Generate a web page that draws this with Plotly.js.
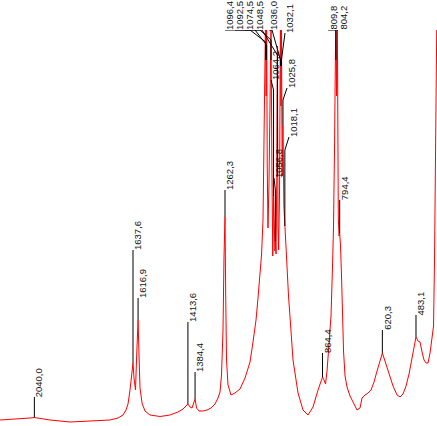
<!DOCTYPE html>
<html>
<head>
<meta charset="utf-8">
<script src="https://cdn.plot.ly/plotly-3.0.1.min.js"></script>
<style>html,body{margin:0;padding:0;background:#fff;}#chart{width:437px;height:426px;}</style>
</head>
<body>
<div id="chart"></div>
<script>
// Spectrum: wavenumber (cm-1) and intensity (arbitrary units)
var spectrumWn = [2180.2,2139.4,2098.6,2057.8,2040.0,2017.0,1976.2,1935.4,1894.6,1853.8,1813.0,1772.2,1731.4,1698.8,1678.4,1666.1,1658.0,1649.8,1643.7,1637.6,1633.5,1627.4,1623.3,1616.9,1613.1,1609.0,1600.8,1588.6,1568.2,1527.4,1486.6,1454.0,1433.6,1421.3,1413.6,1405.0,1396.8,1388.7,1384.4,1378.5,1368.3,1352.0,1335.6,1319.3,1303.0,1290.8,1282.6,1276.5,1270.4,1266.3,1262.3,1259.4,1256.1,1250.0,1237.7,1221.4,1201.0,1180.6,1160.2,1148.0,1135.7,1127.6,1119.4,1113.3,1107.2,1101.1,1096.4,1094.5,1092.5,1090.0,1087.0,1083.0,1079.0,1074.5,1071.0,1067.5,1064.2,1061.0,1058.5,1056.8,1054.0,1051.0,1048.5,1046.0,1043.5,1040.0,1036.0,1034.0,1032.1,1029.0,1025.8,1022.0,1018.1,1015.0,1013.3,1009.2,1003.1,997.0,984.8,964.4,944.0,923.6,903.2,882.8,872.4,864.4,858.3,852.2,846.0,837.9,829.7,823.6,819.5,815.4,809.8,807.3,804.2,800.1,797.1,794.4,791.0,786.9,782.8,778.7,772.6,764.4,752.2,740.0,723.6,711.4,703.2,691.0,678.8,666.5,654.3,642.0,629.8,620.3,613.5,601.2,589.0,576.8,560.4,548.2,536.0,523.7,511.5,499.2,489.0,483.1,474.8,466.6,458.4,450.3,442.1,434.0,425.8,417.6,411.5,407.4,403.4,400.5,397.2];
var spectrumInt = [6,6.5,7,8,8.5,7.5,6,5,4,4.5,5,5.5,6,8,11,16,22,36,54,63,48,36,66,106,71,38,23,15,11,9.5,11,14,17,20,22,19,18,24,27,18,15,15,16,18,22,28,34,51,96,170,209,130,66,41,31,33,37,48,64,84,106,128,151,171,206,300,420,330,420,260,198,240,330,400,260,170,230,185,175,185,172,250,380,200,176,230,410,320,410,250,300,220,200,185,170,153,130,109,66,33,16,11,19,36,44,49,46,42,55,80,110,160,200,280,420,330,420,210,190,193,180,150,110,75,50,39,30,24,16,18,28,31,33,36,44,55,65,73,68,59,50,40,31,29,32,40,52,68,82,89,85,84,74,66,63,63,73,88,100,170,280,400,430];

// Peak labels
var labelText = ["2040,0","1637,6","1616,9","1413,6","1384,4","1262,3","1096,4","1092,5","1074,5","1064,2","1056,8","1048,5","1036,0","1032,1","1025,8","1018,1","864,4","809,8","804,2","794,4","620,3","483,1"];
var labelWn = [2040.0,1637.6,1616.9,1413.6,1384.4,1262.3,1096.4,1092.5,1074.5,1064.2,1056.8,1048.5,1036.0,1032.1,1025.8,1018.1,864.4,809.8,804.2,794.4,620.3,483.1];
var labelPeakInt = [8.5,63,106,22,27,209,420,420,400,230,185,250,410,410,300,200,49,420,420,193,73,89];

// Label placement (text foot) and leader routing
var footWn  = [2040.0,1637.6,1616.9,1413.6,1384.4,1262.3,1262.2,1221.4,1180.6,1074.5,1062.3,1139.8,1082.7,1017.4,1009.2,1001.1,864.4,842.0,801.2,794.4,620.3,483.1];
var footInt = [29,176,128,104,54,236,396,396,396,346,248,396,396,393,338,289,73,396,396,226,96,111];
var elbowWn = [null,null,null,null,null,null,1160.2,1139.8,1119.4,null,null,1111.2,1070.4,null,null,null,null,809.8,804.2,null,null,null];
var kneeInt = [29,176,128,104,54,236,384,381,386,336,236,371,366,366,326,276,73,396,396,226,96,111];
var endInt  = [8.5,63,106,22,27,209,366,366,366,230,185,250,360,360,300,200,49,366,396,193,73,89];

var lx = [], ly = [];
for (var i = 0; i < labelText.length; i++) {
  lx.push(footWn[i]); ly.push(footInt[i]);
  if (elbowWn[i] !== null) { lx.push(elbowWn[i]); ly.push(footInt[i]); }
  lx.push(labelWn[i]); ly.push(kneeInt[i]);
  lx.push(labelWn[i]); ly.push(endInt[i]);
  lx.push(null); ly.push(null);
}

var traces = [
  {x: spectrumWn, y: spectrumInt, type: 'scatter', mode: 'lines',
   line: {color: '#ff0000', width: 1}, hoverinfo: 'skip'},
  {x: lx, y: ly, type: 'scatter', mode: 'lines', connectgaps: false,
   line: {color: '#000000', width: 1}, hoverinfo: 'skip'}
];

var annotations = labelText.map(function (t, i) {
  return {x: footWn[i], y: footInt[i], xref: 'x', yref: 'y', text: t,
    showarrow: false, textangle: -90, xanchor: 'left', yanchor: 'bottom',
    xshift: -2, yshift: -1, borderpad: 0,
    font: {family: 'Liberation Sans, Arial, sans-serif', size: 9.5, color: '#111'}};
});

var layout = {
  width: 437, height: 426,
  margin: {l: 0, r: 0, t: 30, b: 0, pad: 0},
  paper_bgcolor: '#fff', plot_bgcolor: '#fff',
  showlegend: false,
  xaxis: {range: [2180.2, 397.4], visible: false, fixedrange: true},
  yaxis: {range: [0, 396], visible: false, fixedrange: true},
  annotations: annotations
};

Plotly.newPlot('chart', traces, layout, {staticPlot: true, displayModeBar: false});
</script>
</body>
</html>
